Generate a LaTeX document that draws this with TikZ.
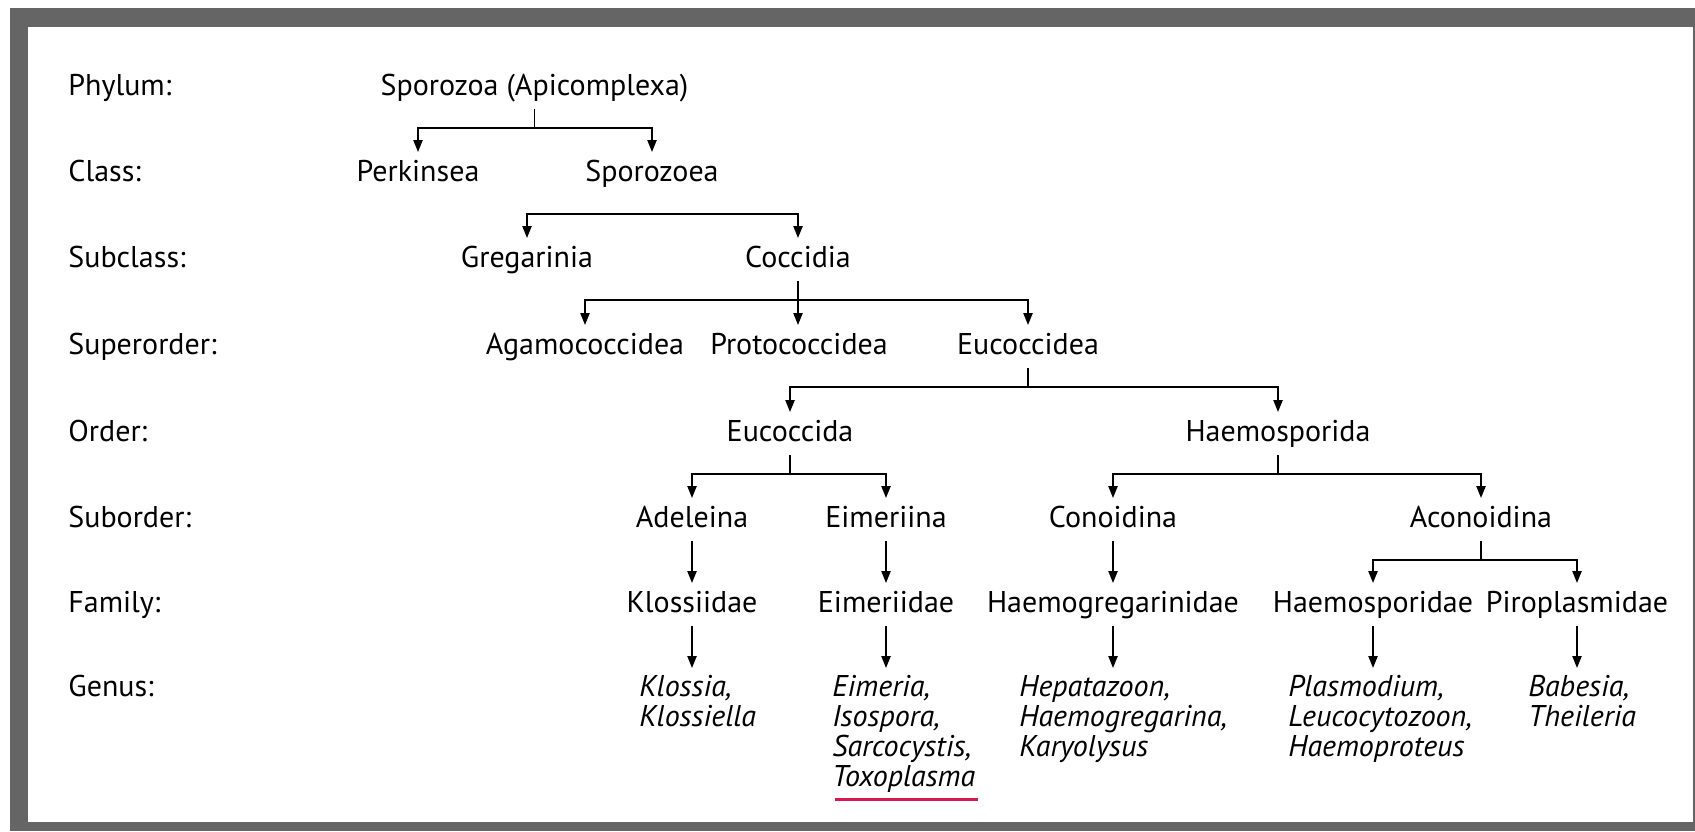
\documentclass[tikz,border=0pt]{standalone}
\usepackage{fontspec}
\setmainfont{PT Sans}
\usetikzlibrary{arrows.meta,calc}
\definecolor{framegray}{HTML}{656565}
\definecolor{ulinered}{HTML}{D7194F}
\begin{document}
\begin{tikzpicture}[x=0.5pt,y=-0.5pt,
  every node/.style={inner sep=0pt, font=\fontsize{15}{15}\selectfont},
  lab/.style={anchor=base west},
  tax/.style={anchor=base},
  gen/.style={anchor=base west, font=\fontsize{15}{15}\selectfont\itshape},
  conn/.style={line width=0.85pt, -{Triangle[length=6pt,width=4.6pt]}},
  plainline/.style={line width=0.85pt}]
\useasboundingbox (0,0) rectangle (1695,831);
\fill[white] (0,0) rectangle (1695,831);
\fill[framegray] (10,8) rectangle (1695,831);
\fill[white] (28,27) rectangle (1693,822);

% rank labels
\node[lab] (lphy) at (68,95) {Phylum:};
\node[lab] (lcla) at (68,181) {Class:};
\node[lab] (lsub) at (68,267) {Subclass:};
\node[lab] (lsup) at (68,354) {Superorder:};
\node[lab] (lord) at (68,441) {Order:};
\node[lab] (lsor) at (68,527) {Suborder:};
\node[lab] (lfam) at (68,612) {Family:};
\node[lab] (lgen) at (68,696) {Genus:};

% taxa
\node[tax] (spz) at (534.5,95) {Sporozoa (Apicomplexa)};
\node[tax] (perk) at (418,181) {Perkinsea};
\node[tax] (spze) at (652,181) {Sporozoea};
\node[tax] (greg) at (527,267) {Gregarinia};
\node[tax] (cocc) at (798,267) {Coccidia};
\node[tax] (agam) at (585,354) {Agamococcidea};
\node[tax] (prot) at (799,354) {Protococcidea};
\node[tax] (eucd) at (1028,354) {Eucoccidea};
\node[tax] (euca) at (790,441) {Eucoccida};
\node[tax] (haem) at (1278,441) {Haemosporida};
\node[tax] (adel) at (692,527) {Adeleina};
\node[tax] (eimi) at (886,527) {Eimeriina};
\node[tax] (cono) at (1113,527) {Conoidina};
\node[tax] (acon) at (1481,527) {Aconoidina};
\node[tax] (klod) at (692,612) {Klossiidae};
\node[tax] (eimd) at (886,612) {Eimeriidae};
\node[tax] (hgrd) at (1113,612) {Haemogregarinidae};
\node[tax] (hspd) at (1373,612) {Haemosporidae};
\node[tax] (pird) at (1577,612) {Piroplasmidae};

% genera
\node[gen] (klog) at (639,696) {\begin{tabular}[t]{@{}l@{}}Klossia,\\Klossiella\end{tabular}};
\node[gen] (eimg) at (832,696) {\begin{tabular}[t]{@{}l@{}}Eimeria,\\Isospora,\\Sarcocystis,\\Toxoplasma\end{tabular}};
\node[gen] (hgrg) at (1019,696) {\begin{tabular}[t]{@{}l@{}}Hepatazoon,\\Haemogregarina,\\Karyolysus\end{tabular}};
\node[gen] (hspg) at (1288,696) {\begin{tabular}[t]{@{}l@{}}Plasmodium,\\Leucocytozoon,\\Haemoproteus\end{tabular}};
\node[gen] (pirg) at (1528,696) {\begin{tabular}[t]{@{}l@{}}Babesia,\\Theileria\end{tabular}};

% Phylum -> classes
\draw[plainline] ($(spz.base)+(0,14)$) -- ($(spz.base)+(0,33)$);
\draw[conn] ($(spz.base)+(0,33)$) -| ($(perk.base)+(0,-29)$);
\draw[conn] ($(spz.base)+(0,33)$) -| ($(spze.base)+(0,-29)$);

% Sporozoea -> subclasses (no stem)
\coordinate (h2) at ($(spze.base)+(0,33)$);
\draw[conn] (h2 -| cocc) -| ($(greg.base)+(0,-29)$);
\draw[conn] (h2 -| greg) -| ($(cocc.base)+(0,-29)$);

% Coccidia -> superorders
\coordinate (h3) at ($(cocc.base)+(0,33)$);
\draw[conn] ($(cocc.base)+(0,14)$) -- ($(cocc.base |- prot.base)+(0,-29)$);
\draw[conn] (h3 -| eucd) -| ($(agam.base)+(0,-29)$);
\draw[conn] (h3 -| agam) -| ($(eucd.base)+(0,-29)$);

% Eucoccidea -> orders
\draw[plainline] ($(eucd.base)+(0,14)$) -- ($(eucd.base)+(0,33)$);
\draw[conn] ($(eucd.base)+(0,33)$) -| ($(euca.base)+(0,-29)$);
\draw[conn] ($(eucd.base)+(0,33)$) -| ($(haem.base)+(0,-29)$);

% Eucoccida -> suborders
\draw[plainline] ($(euca.base)+(0,14)$) -- ($(euca.base)+(0,33)$);
\draw[conn] ($(euca.base)+(0,33)$) -| ($(adel.base)+(0,-29)$);
\draw[conn] ($(euca.base)+(0,33)$) -| ($(eimi.base)+(0,-29)$);

% Haemosporida -> suborders
\draw[plainline] ($(haem.base)+(0,14)$) -- ($(haem.base)+(0,33)$);
\draw[conn] ($(haem.base)+(0,33)$) -| ($(cono.base)+(0,-29)$);
\draw[conn] ($(haem.base)+(0,33)$) -| ($(acon.base)+(0,-29)$);

% suborders -> families
\draw[conn] ($(adel.base)+(0,14)$) -- ($(adel.base |- klod.base)+(0,-29)$);
\draw[conn] ($(eimi.base)+(0,14)$) -- ($(eimi.base |- eimd.base)+(0,-29)$);
\draw[conn] ($(cono.base)+(0,14)$) -- ($(cono.base |- hgrd.base)+(0,-29)$);
\draw[plainline] ($(acon.base)+(0,14)$) -- ($(acon.base)+(0,33)$);
\draw[conn] ($(acon.base)+(0,33)$) -| ($(hspd.base)+(0,-29)$);
\draw[conn] ($(acon.base)+(0,33)$) -| ($(pird.base)+(0,-29)$);

% families -> genera
\draw[conn] ($(klod.base)+(0,14)$) -- ($(klod.base |- klog.base)+(0,-28)$);
\draw[conn] ($(eimd.base)+(0,14)$) -- ($(eimd.base |- eimg.base)+(0,-28)$);
\draw[conn] ($(hgrd.base)+(0,14)$) -- ($(hgrd.base |- hgrg.base)+(0,-28)$);
\draw[conn] ($(hspd.base)+(0,14)$) -- ($(hspd.base |- hspg.base)+(0,-28)$);
\draw[conn] ($(pird.base)+(0,14)$) -- ($(pird.base |- pirg.base)+(0,-28)$);

% underline
\draw[ulinered, line width=1.6pt] ($(eimg.south west)+(3,4)$) -- ($(eimg.south east)+(2,4)$);
\end{tikzpicture}
\end{document}
